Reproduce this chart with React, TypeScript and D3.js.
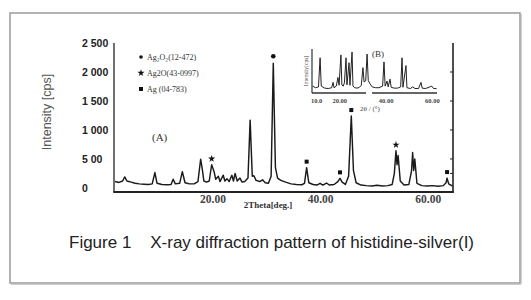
import React from "react";
import * as d3 from "d3";

// ---- Main pattern (A): 2θ (deg) and intensity (cps) ----
const mainTheta = [1.8, 2.5, 3.2, 3.6, 4.0, 4.8, 5.5, 6.3, 7.2, 8.0, 8.7, 9.2, 9.6, 10.5, 11.5, 12.2, 12.6, 13.0, 13.8, 14.3, 14.8, 15.6, 16.5, 17.2, 17.7, 18.0, 18.3, 18.8, 19.3, 19.75, 20.2, 20.5, 21.0, 21.3, 21.9, 22.2, 22.6, 23.0, 23.5, 23.8, 24.1, 24.5, 25.0, 25.4, 25.9, 26.5, 26.9, 27.3, 27.6, 28.0, 28.7, 29.2, 29.7, 30.3, 30.8, 31.2, 31.6, 32.0, 32.6, 33.5, 34.5, 35.5, 36.5, 37.0, 37.4, 37.8, 38.6, 39.3, 39.9, 40.4, 41.1, 41.6, 42.5, 43.2, 43.6, 44.0, 44.6, 45.2, 45.7, 46.1, 46.6, 47.5, 48.5, 49.5, 50.5, 51.5, 52.5, 53.3, 53.7, 54.0, 54.2, 54.4, 54.8, 55.5, 56.4, 56.9, 57.1, 57.3, 57.5, 57.9, 58.8, 59.8, 60.8, 61.8, 62.8, 63.3, 63.5, 63.8, 64.5];
const mainIntensity = [110, 95, 120, 190, 120, 100, 80, 70, 65, 60, 70, 265, 80, 60, 55, 60, 150, 70, 80, 280, 90, 70, 70, 110, 495, 330, 120, 100, 120, 400, 280, 150, 200, 110, 220, 120, 160, 110, 220, 120, 250, 120, 170, 100, 110, 170, 1170, 200, 210, 130, 110, 140, 90, 80, 200, 2150, 350, 170, 130, 100, 70, 60, 55, 80, 350, 90, 60, 50, 80, 50, 85, 50, 60, 110, 165, 100, 60, 200, 1240, 300, 90, 50, 40, 35, 45, 35, 40, 60, 250, 640, 400, 560, 120, 50, 60, 300, 610, 300, 500, 80, 40, 35, 40, 30, 40, 90, 170, 70, 30];

// phase markers: [2θ, peak intensity]
const ag2o2Peaks = [[31.2, 2150]];
const ag2oPeaks = [[19.75, 400], [54.0, 640]];
const agPeaks = [[37.4, 350], [43.6, 165], [45.7, 1240], [63.5, 170]];

const yTicks = [0, 500, 1000, 1500, 2000, 2500];
const yTickLabels = ["0", "5 00", "1 000", "1 500", "2 000", "2 500"];
const rightTicks = [250, 500, 1000, 1500, 2000];
const xTicks = [20, 40, 60];
const xTickLabels = ["20.00", "40.00", "60.00"];

const legendLabels = ["Ag\u2082O\u2082(12-472)", "Ag2O(43-0997)", "Ag (04-783)"];

// ---- Inset (B): relative intensity ----
const insetTheta = [8.2, 9.5, 10.8, 11.5, 12.0, 13.5, 15.0, 16.5, 17.1, 17.5, 18.5, 19.2, 19.7, 20.5, 20.9, 21.5, 22.0, 22.7, 23.1, 24.0, 24.4, 25.3, 25.7, 26.5, 27.5, 28.5, 29.3, 30.0, 30.5, 31.2, 31.8, 32.3, 33.0, 34.0, 35.5, 37.0, 38.5, 39.1, 39.6, 40.4, 40.9, 41.7, 42.2, 43.5, 45.0, 46.3, 46.9, 47.3, 48.6, 49.0, 50.5, 51.5, 52.5, 54.0, 55.1, 55.6, 57.0, 58.5, 59.7, 60.5, 61.8];
const insetIntensity = [12, 8, 10, 81, 12, 7, 6, 8, 21, 8, 12, 33, 14, 88, 15, 12, 20, 81, 15, 69, 14, 95, 12, 8, 7, 9, 14, 57, 22, 25, 90, 26, 18, 10, 8, 8, 12, 71, 12, 24, 10, 29, 9, 7, 7, 10, 81, 9, 62, 8, 6, 10, 6, 6, 21, 7, 6, 9, 12, 6, 6];
const insetXTicks = [10, 20, 40, 60];
const insetXTickLabels = ["10.0", "20.00", "40.00", "60.00"];

const W = 531;
const H = 300;

export default function App() {
  const x = d3.scaleLinear().domain([1.6, 64.6]).range([114, 453]);
  const y = d3.scaleLinear().domain([-70, 2500]).range([192, 43]);

  const mainData = mainTheta.map((t, i) => [t, mainIntensity[i]] as [number, number]);
  const line = d3
    .line<[number, number]>()
    .x((d) => x(d[0]))
    .y((d) => y(d[1]));

  const xi = d3.scaleLinear().domain([8, 62]).range([312, 437]);
  const yi = d3.scaleLinear().domain([0, 100]).range([91, 50]);
  const insetData = insetTheta.map((t, i) => [t, insetIntensity[i]] as [number, number]);
  const lineI = d3
    .line<[number, number]>()
    .x((d) => xi(d[0]))
    .y((d) => yi(d[1]));

  const star = d3.symbol().type(d3.symbolStar).size(16)() as string;
  const square = d3.symbol().type(d3.symbolSquare).size(16)() as string;

  const serif = "'Liberation Serif', 'DejaVu Serif', serif";
  const sans = "'Liberation Sans', Arial, sans-serif";

  return (
    <svg
      width={W}
      height={H}
      style={{ position: "absolute", left: 0, top: 0, background: "#fff" }}
    >
      {/* figure frame */}
      <rect x={10} y={13} width={510} height={270} fill="none" stroke="#9a9a9a" strokeWidth={1.5} />
      <line x1={521.5} y1={14} x2={521.5} y2={284} stroke="#cfcfcf" strokeWidth={1} />
      <line x1={11} y1={284.5} x2={521} y2={284.5} stroke="#cfcfcf" strokeWidth={1} />

      {/* y axis title */}
      <text
        transform={`translate(51,112) rotate(-90)`}
        textAnchor="middle"
        fontFamily={sans}
        fontSize={12.5}
        fill="#555"
      >
        Intensity [cps]
      </text>

      {/* y tick labels */}
      {yTicks.map((t, i) => (
        <text key={t} x={82} y={y(t) + 4} fontFamily={sans} fontSize={10.5} fontWeight={700} fill="#222">
          {yTickLabels[i]}
        </text>
      ))}

      {/* axes */}
      <line x1={x(1.6)} y1={43} x2={x(1.6)} y2={192.5} stroke="#222" strokeWidth={1.3} />
      <line x1={x(64.6)} y1={43} x2={x(64.6)} y2={192.5} stroke="#222" strokeWidth={1.6} />
      <line x1={x(1.6) - 0.6} y1={192} x2={x(64.6) + 0.8} y2={192} stroke="#222" strokeWidth={1.8} />
      {rightTicks.map((t) => (
        <line key={t} x1={x(64.6) - 3} y1={y(t)} x2={x(64.6)} y2={y(t)} stroke="#222" strokeWidth={1} />
      ))}

      {/* x tick labels */}
      {xTicks.map((t, i) => (
        <text key={t} x={x(t)} y={203} textAnchor="middle" fontFamily={serif} fontSize={11.5} fontWeight={700} fill="#444">
          {xTickLabels[i]}
        </text>
      ))}
      <text x={268} y={208} textAnchor="middle" fontFamily={serif} fontSize={9} fontWeight={700} fill="#333">
        2Theta[deg.]
      </text>

      {/* pattern */}
      <path d={line(mainData) || ""} fill="none" stroke="#1a1a1a" strokeWidth={1.45} strokeLinejoin="round" />

      {/* phase markers */}
      {ag2o2Peaks.map(([t, v], i) => (
        <circle key={"a" + i} cx={x(t)} cy={y(v) - 7} r={2.3} fill="#111" />
      ))}
      {ag2oPeaks.map(([t, v], i) => (
        <path key={"b" + i} d={star} transform={`translate(${x(t)},${y(v) - 6})`} fill="#111" />
      ))}
      {agPeaks.map(([t, v], i) => (
        <path key={"c" + i} d={square} transform={`translate(${x(t)},${y(v) - 6})`} fill="#111" />
      ))}

      {/* legend */}
      <circle cx={141} cy={57} r={1.8} fill="#111" />
      <path d={star} transform="translate(141,73)" fill="#111" />
      <path d={square} transform="translate(141,89)" fill="#111" />
      {legendLabels.map((l, i) => (
        <text key={l} x={147} y={60 + i * 16} fontFamily={serif} fontSize={8} fill="#333">
          {l}
        </text>
      ))}

      <text x={152} y={141} fontFamily={serif} fontSize={11} fill="#333">
        (A)
      </text>

      {/* inset B */}
      <path d={lineI(insetData) || ""} fill="none" stroke="#222" strokeWidth={1} />
      <line x1={312} y1={49} x2={312} y2={93} stroke="#333" strokeWidth={1.2} />
      <line x1={312} y1={93} x2={366} y2={93} stroke="#333" strokeWidth={1.6} />
      <line x1={372} y1={93} x2={437} y2={93} stroke="#333" strokeWidth={1.6} />
      {insetXTicks.map((t, i) => (
        <text key={t} x={xi(t)} y={103} textAnchor="middle" fontFamily={serif} fontSize={6.5} fontWeight={700} fill="#444">
          {insetXTickLabels[i]}
        </text>
      ))}
      <text x={370} y={111} textAnchor="middle" fontFamily={serif} fontSize={7} fill="#444">
        2θ / (°)
      </text>
      <text x={378} y={57} textAnchor="middle" fontFamily={serif} fontSize={9} fill="#333">
        (B)
      </text>
      <text transform="translate(308,71) rotate(-90)" textAnchor="middle" fontFamily={serif} fontSize={5.5} fill="#444">
        Intensity[cps]
      </text>

      {/* caption */}
      <text x={69} y={248} fontFamily={sans} fontSize={17} fill="#222" style={{ whiteSpace: "pre" }}>
        {"Figure 1    X-ray diffraction pattern of histidine-silver(I)"}
      </text>
    </svg>
  );
}
